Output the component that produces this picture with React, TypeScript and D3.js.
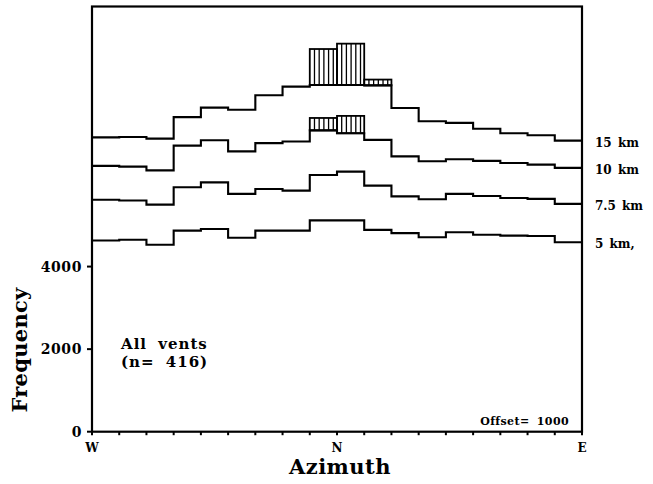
import React from 'react';
import * as d3 from 'd3';

// Azimuth bins W -> N -> E, 10 degrees each
const binCount = 18;
const offset = 1000;

// raw frequencies per bin (offset added per curve when drawn)
const km5 = [4630, 4650, 4530, 4870, 4910, 4700, 4870, 4870, 5120, 5120, 4890, 4810, 4710, 4830, 4770, 4750, 4740, 4590];
const km75 = [4620, 4600, 4500, 4920, 5040, 4760, 4880, 4840, 5220, 5300, 4960, 4700, 4630, 4760, 4710, 4660, 4640, 4520];
const km10 = [4440, 4420, 4330, 4930, 5060, 4790, 4990, 5030, 5300, 5230, 5070, 4670, 4550, 4600, 4560, 4510, 4470, 4390];
const km15 = [4130, 4140, 4100, 4620, 4850, 4800, 5150, 5360, 5400, 5400, 5390, 4840, 4520, 4480, 4340, 4230, 4180, 4050];

// hatched excess bars [bin, top value (raw)]
const km10Excess = [[8, 5600], [9, 5650]];
const km15Excess = [[8, 6270], [9, 6400], [10, 5530]];

const curves = [
  { label: '5 km,', values: km5, k: 0, excess: [] as number[][] },
  { label: '7.5 km', values: km75, k: 1, excess: [] as number[][] },
  { label: '10 km', values: km10, k: 2, excess: km10Excess },
  { label: '15 km', values: km15, k: 3, excess: km15Excess },
];

const yTicks = [0, 2000, 4000];
const xTickLabels = [
  { bin: 0, text: 'W' },
  { bin: 9, text: 'N' },
  { bin: 18, text: 'E' },
];

const font = "'DejaVu Serif', serif";

export default function App() {
  const left = 92, right = 582, top = 6.5, bottom = 431.7;
  const x = d3.scaleLinear().domain([0, binCount]).range([left, right]);
  const y = d3.scaleLinear().domain([0, 10300]).range([bottom, top]);

  const line = d3.line<[number, number]>()
    .x(d => x(d[0]))
    .y(d => y(d[1]))
    .curve(d3.curveStepAfter);

  const hatchStep = 4.7;

  return (
    <svg width={653} height={484} style={{ position: 'absolute', left: 0, top: 0, background: '#fff' }}>
      <rect x={0} y={0} width={653} height={484} fill="#fff" />

      {curves.map(c => {
        const pts: [number, number][] = c.values.map((v, i) => [i, v + c.k * offset] as [number, number]);
        pts.push([binCount, c.values[binCount - 1] + c.k * offset]);
        const last = c.values[binCount - 1] + c.k * offset;
        return (
          <g key={c.label}>
            {c.excess.map(([bin, topV]) => {
              const base = c.values[bin] + c.k * offset;
              const x0 = x(bin), x1 = x(bin + 1);
              const y0 = y(topV + c.k * offset), y1 = y(base);
              const n = Math.floor((x1 - x0) / hatchStep);
              return (
                <g key={bin}>
                  {d3.range(1, n + 1).map(j => (
                    <line key={j} x1={x0 + j * hatchStep} x2={x0 + j * hatchStep} y1={y0} y2={y1}
                      stroke="#000" strokeWidth={1.3} />
                  ))}
                  <rect x={x0} y={y0} width={x1 - x0} height={y1 - y0} fill="none" stroke="#000" strokeWidth={1.8} />
                </g>
              );
            })}
            <path d={line(pts) || ''} fill="none" stroke="#000" strokeWidth={2.1} />
            <text x={595} y={y(last) + 6} fontFamily={font} fontWeight="bold" fontSize={12} wordSpacing={2}>{c.label}</text>
          </g>
        );
      })}

      {/* frame */}
      <rect x={left} y={top} width={right - left} height={bottom - top} fill="none" stroke="#000" strokeWidth={2.2} />

      {/* y axis */}
      {yTicks.map(t => (
        <g key={t}>
          <line x1={left - 5} x2={left} y1={y(t)} y2={y(t)} stroke="#000" strokeWidth={2} />
          <text x={82} y={y(t) + 5} textAnchor="end" fontFamily={font} fontWeight="bold" fontSize={14} letterSpacing={0.6}>{t}</text>
        </g>
      ))}

      {/* x axis ticks */}
      {d3.range(0, binCount + 1).map(i => (
        <line key={i} x1={x(i)} x2={x(i)} y1={bottom} y2={bottom + 3.5} stroke="#000" strokeWidth={2} />
      ))}
      {xTickLabels.map(t => (
        <text key={t.text} x={x(t.bin)} y={452} textAnchor="middle" fontFamily={font} fontWeight="bold" fontSize={12}>{t.text}</text>
      ))}

      <text x={340} y={474} textAnchor="middle" fontFamily={font} fontWeight="bold" fontSize={21} letterSpacing={0.5}>Azimuth</text>
      <text transform="translate(27,350) rotate(-90)" textAnchor="middle" fontFamily={font} fontWeight="bold" fontSize={21} letterSpacing={0.3}>Frequency</text>

      <text x={121} y={349} fontFamily={font} fontWeight="bold" fontSize={15} letterSpacing={1} wordSpacing={5}>All vents</text>
      <text x={121} y={367} fontFamily={font} fontWeight="bold" fontSize={15} letterSpacing={1} wordSpacing={5}>(n= 416)</text>

      <text x={569} y={425} textAnchor="end" fontFamily={font} fontWeight="bold" fontSize={11} letterSpacing={0.4} wordSpacing={3}>Offset= 1000</text>
    </svg>
  );
}
